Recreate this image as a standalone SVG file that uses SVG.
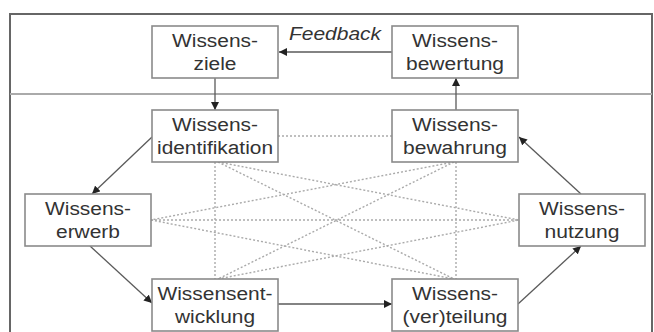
<svg xmlns="http://www.w3.org/2000/svg" width="654" height="332" viewBox="0 0 654 332">
<style>
.box{fill:#fff;stroke:#8a8a8a;stroke-width:1.6}
.t{font-family:"Liberation Sans",Arial,sans-serif;font-size:18px;fill:#333;text-anchor:middle}
.fb{font-family:"Liberation Sans",Arial,sans-serif;font-size:18px;font-style:italic;fill:#333}
.arr{stroke:#5a5a5a;stroke-width:1.3;fill:none;marker-end:url(#ah)}
.dot{stroke:#aaa;stroke-width:1.4;stroke-dasharray:2 2;fill:none}
</style>
<defs>
<marker id="ah" viewBox="0 0 10 10" refX="10" refY="5" markerWidth="8" markerHeight="8" markerUnits="userSpaceOnUse" orient="auto">
<path d="M0,0 L10,5 L0,10 z" fill="#222"/>
</marker>
</defs>
<rect width="654" height="332" fill="#fff"/>
<path d="M10,340 V14 H652 V340" fill="none" stroke="#666" stroke-width="2"/>
<line x1="10" y1="94" x2="652" y2="94" stroke="#aaa" stroke-width="2"/>
<g id="connectors">
<g id="dotted">
<line class="dot" x1="278" y1="136" x2="392" y2="136"/>
<line class="dot" x1="215" y1="162" x2="215" y2="279"/>
<line class="dot" x1="456" y1="162" x2="456" y2="279"/>
<line class="dot" x1="151" y1="220" x2="519" y2="220"/>
<line class="dot" x1="218" y1="162" x2="519" y2="220"/>
<line class="dot" x1="218" y1="162" x2="454" y2="279"/>
<line class="dot" x1="454" y1="162" x2="151" y2="220"/>
<line class="dot" x1="454" y1="162" x2="218" y2="279"/>
<line class="dot" x1="151" y1="220" x2="454" y2="279"/>
<line class="dot" x1="218" y1="279" x2="519" y2="220"/>
</g>
<line class="arr" x1="392" y1="52" x2="279" y2="52"/>
<line class="arr" x1="215" y1="78" x2="215" y2="110"/>
<line class="arr" x1="456" y1="110" x2="456" y2="78"/>
<line class="arr" x1="152" y1="137" x2="92" y2="194"/>
<line class="arr" x1="90" y1="246" x2="152" y2="303"/>
<line class="arr" x1="278" y1="304" x2="392" y2="304"/>
<line class="arr" x1="518" y1="304" x2="581" y2="246"/>
<line class="arr" x1="581" y1="194" x2="519" y2="137"/>
</g>
<text class="fb" x="289" y="40" textLength="92" lengthAdjust="spacingAndGlyphs">Feedback</text>
<g id="ziele">
<rect class="box" x="152" y="26" width="126" height="52"/>
<text class="t" x="215" y="47" textLength="86" lengthAdjust="spacingAndGlyphs">Wissens-</text>
<text class="t" x="215" y="70" textLength="43" lengthAdjust="spacingAndGlyphs">ziele</text>
</g>
<g id="bewertung">
<rect class="box" x="392" y="26" width="126" height="52"/>
<text class="t" x="455" y="47" textLength="86" lengthAdjust="spacingAndGlyphs">Wissens-</text>
<text class="t" x="455" y="70" textLength="98" lengthAdjust="spacingAndGlyphs">bewertung</text>
</g>
<g id="identifikation">
<rect class="box" x="152" y="110" width="126" height="52"/>
<text class="t" x="215" y="131" textLength="86" lengthAdjust="spacingAndGlyphs">Wissens-</text>
<text class="t" x="215" y="154" textLength="116" lengthAdjust="spacingAndGlyphs">identifikation</text>
</g>
<g id="bewahrung">
<rect class="box" x="392" y="110" width="126" height="52"/>
<text class="t" x="455" y="131" textLength="86" lengthAdjust="spacingAndGlyphs">Wissens-</text>
<text class="t" x="455" y="154" textLength="104" lengthAdjust="spacingAndGlyphs">bewahrung</text>
</g>
<g id="erwerb">
<rect class="box" x="25" y="194" width="126" height="52"/>
<text class="t" x="88" y="215" textLength="86" lengthAdjust="spacingAndGlyphs">Wissens-</text>
<text class="t" x="88" y="238" textLength="64" lengthAdjust="spacingAndGlyphs">erwerb</text>
</g>
<g id="nutzung">
<rect class="box" x="519" y="194" width="126" height="52"/>
<text class="t" x="582" y="215" textLength="86" lengthAdjust="spacingAndGlyphs">Wissens-</text>
<text class="t" x="582" y="238" textLength="75" lengthAdjust="spacingAndGlyphs">nutzung</text>
</g>
<g id="entwicklung">
<rect class="box" x="152" y="279" width="126" height="52"/>
<text class="t" x="215" y="300" textLength="115" lengthAdjust="spacingAndGlyphs">Wissensent-</text>
<text class="t" x="215" y="323" textLength="80" lengthAdjust="spacingAndGlyphs">wicklung</text>
</g>
<g id="verteilung">
<rect class="box" x="392" y="279" width="126" height="52"/>
<text class="t" x="455" y="300" textLength="86" lengthAdjust="spacingAndGlyphs">Wissens-</text>
<text class="t" x="455" y="323" textLength="105" lengthAdjust="spacingAndGlyphs">(ver)teilung</text>
</g>
</svg>
